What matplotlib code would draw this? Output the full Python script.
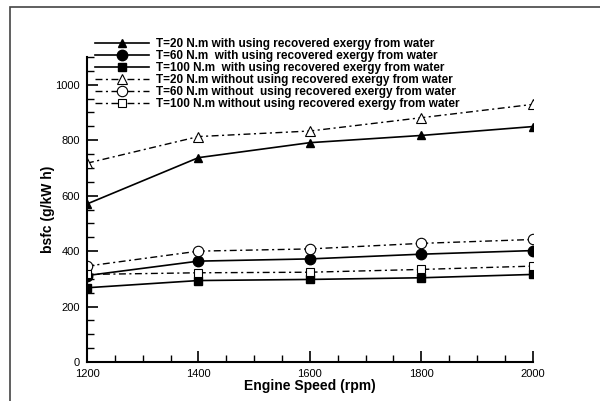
import matplotlib
matplotlib.use('Agg')
import matplotlib.pyplot as plt
from matplotlib.patches import Rectangle
from matplotlib.ticker import MultipleLocator

plt.rcParams['font.family'] = ['Liberation Sans', 'DejaVu Sans']

speed = [1200, 1400, 1600, 1800, 2000]

t20_with = [570, 737, 791, 817, 849]
t60_with = [312, 364, 372, 389, 402]
t100_with = [268, 294, 298, 304, 316]
t20_without = [717, 813, 833, 881, 929]
t60_without = [346, 400, 408, 428, 442]
t100_without = [316, 322, 324, 334, 346]

labels = [
    'T=20 N.m with using recovered exergy from water',
    'T=60 N.m  with using recovered exergy from water',
    'T=100 N.m  with using recovered exergy from water',
    'T=20 N.m without using recovered exergy from water',
    'T=60 N.m without  using recovered exergy from water',
    'T=100 N.m without using recovered exergy from water',
]

fig = plt.figure(figsize=(6.0, 4.01), dpi=100)
ax = fig.add_axes([0.145, 0.097, 0.743, 0.761])

dd = [5, 2.5, 1.5, 2.5]
ax.plot(speed, t20_with, '-', color='k', lw=1.2, marker='^', ms=6, label=labels[0])
ax.plot(speed, t60_with, '-', color='k', lw=1.2, marker='o', ms=7.5, label=labels[1])
ax.plot(speed, t100_with, '-', color='k', lw=1.2, marker='s', ms=6, label=labels[2])
ax.plot(speed, t20_without, color='k', lw=1.0, dashes=dd, marker='^', ms=6.5, mfc='white', mew=0.8, label=labels[3])
ax.plot(speed, t60_without, color='k', lw=1.0, dashes=dd, marker='o', ms=7.5, mfc='white', mew=0.8, label=labels[4])
ax.plot(speed, t100_without, color='k', lw=1.0, dashes=dd, marker='s', ms=6, mfc='white', mew=0.8, label=labels[5])

ax.set_xlim(1200, 2000)
ax.set_ylim(0, 1100)
ax.xaxis.set_major_locator(MultipleLocator(200))
ax.xaxis.set_minor_locator(MultipleLocator(50))
ax.yaxis.set_major_locator(MultipleLocator(200))
ax.yaxis.set_minor_locator(MultipleLocator(50))
ax.tick_params(which='major', direction='in', length=8, width=1.2, labelsize=8, pad=5)
ax.tick_params(which='minor', direction='in', length=5, width=1.0)

for s in ['top', 'right']:
    ax.spines[s].set_visible(False)
for s in ['left', 'bottom']:
    ax.spines[s].set_linewidth(1.5)

ax.set_xlabel('Engine Speed (rpm)', fontsize=10, fontweight='bold', labelpad=0)
ax.set_ylabel('bsfc (g/kW h)', fontsize=10, fontweight='bold', labelpad=0)

leg = ax.legend(loc='upper left', bbox_to_anchor=(0.158, 0.905), bbox_transform=fig.transFigure,
                frameon=False, fontsize=8.5, numpoints=1, handlelength=4.6,
                handletextpad=0.6, labelspacing=0.0, borderpad=0, borderaxespad=0)
for t in leg.get_texts():
    t.set_fontweight('bold')

fig.patches.append(Rectangle((10 / 600, -0.02), 1.0, 1 - 7 / 401 + 0.02, transform=fig.transFigure,
                             fill=False, edgecolor='#444444', lw=1.2))

fig.savefig('out.png', dpi=100)
